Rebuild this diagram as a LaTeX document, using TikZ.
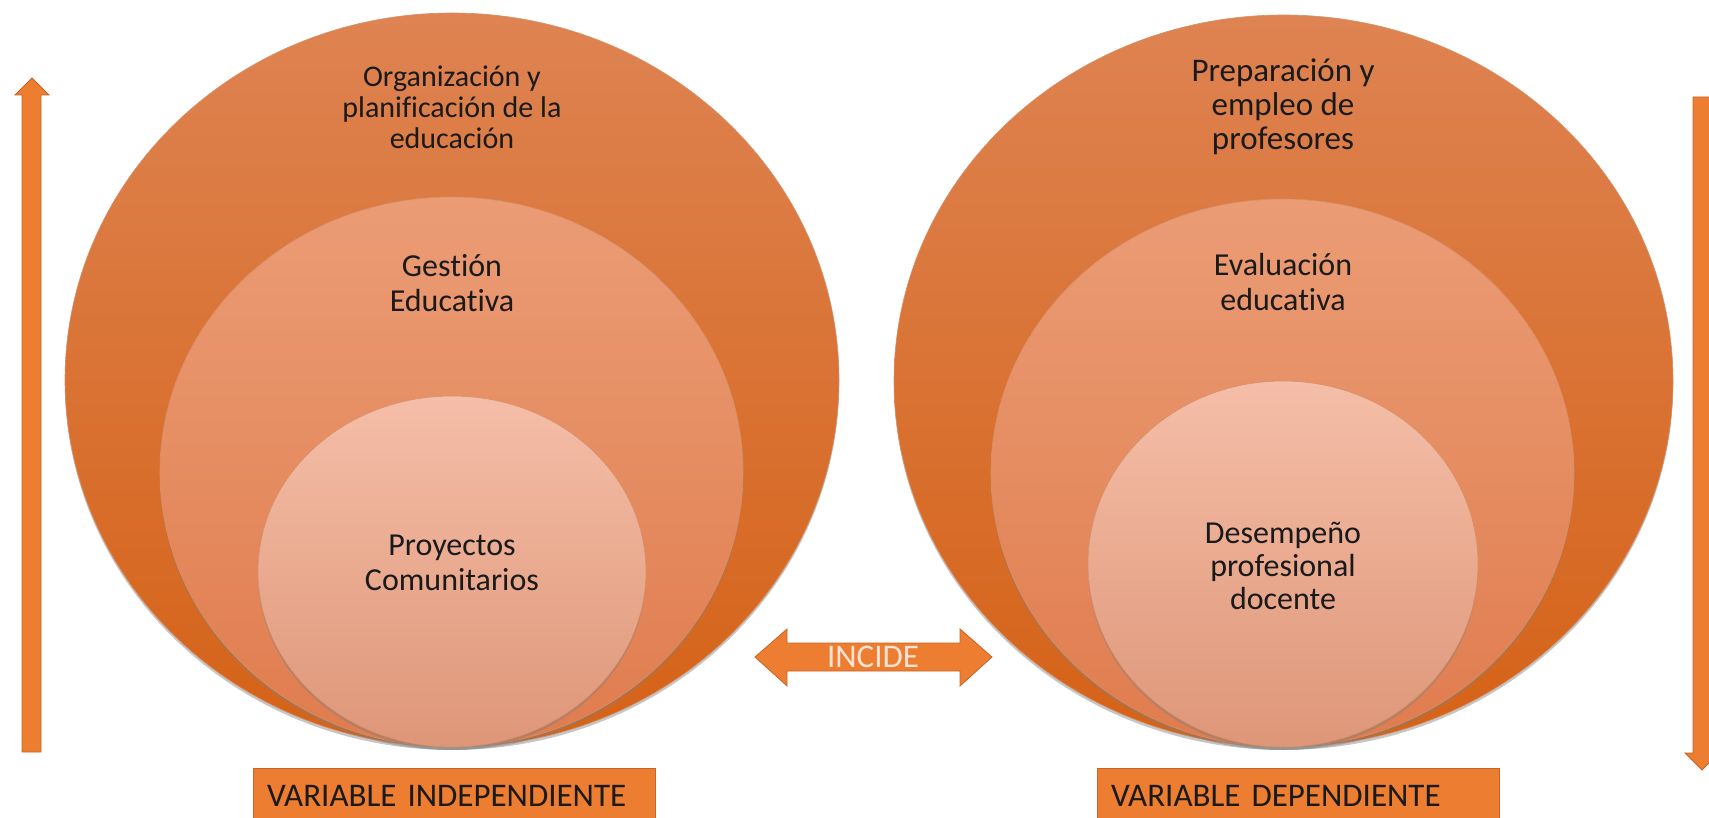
\documentclass[tikz,border=0pt]{standalone}
\usepackage{fontspec}
\setmainfont{Carlito}[Ligatures=NoCommon]
\usetikzlibrary{shapes.geometric,shadows}

\definecolor{outtop}{RGB}{222,131,82}
\definecolor{outbot}{RGB}{213,98,22}
\definecolor{midtop}{RGB}{235,156,117}
\definecolor{midbot}{RGB}{224,124,78}
\definecolor{intop}{RGB}{245,190,168}
\definecolor{inbot}{RGB}{222,150,120}
\definecolor{ringline}{RGB}{196,96,40}
\definecolor{boxfill}{RGB}{237,125,49}
\definecolor{boxline}{RGB}{200,100,40}
\definecolor{txt}{RGB}{26,26,26}
\definecolor{pale}{RGB}{251,228,213}

\tikzset{
  ring/.style={ellipse, inner sep=0pt, draw=ringline!70, line width=0.6pt,
    drop shadow={opacity=0.45, shadow xshift=0pt, shadow yshift=-3pt}},
  outerring/.style={ring, top color=outtop, bottom color=outbot},
  midring/.style={ring, top color=midtop, bottom color=midbot},
  innerring/.style={ring, top color=intop, bottom color=inbot},
  ringtext/.style={align=center, text=txt, inner sep=0pt},
  varbox/.style={rectangle, fill=boxfill, draw=boxline, line width=1pt,
    minimum width=402pt, minimum height=56pt, text width=374pt, align=left,
    inner xsep=14pt, text=txt, font=\fontsize{33}{36}\selectfont},
  bigarrow/.style={fill=boxfill, draw=boxline, line width=0.8pt}
}

\begin{document}
\begin{tikzpicture}[x=1pt,y=-1pt]
\clip (0,0) rectangle (1709,818);

% left set of circles
\node [outerring, minimum width=774pt, minimum height=734pt] (outerL) at (452,380) {};
\node [midring, minimum width=583pt, minimum height=550pt] (midL) at (451.5,472) {};
\node [innerring, minimum width=388pt, minimum height=351pt] (innerL) at (452,571.5) {};

\node [ringtext, font=\fontsize{30}{31}\selectfont] (txtOL) at (452,107)
  {Organización y\\planificación de la\\educación};
\node [ringtext, font=\fontsize{32}{35}\selectfont] (txtML) at (452,283)
  {Gestión\\Educativa};
\node [ringtext, font=\fontsize{32}{35}\selectfont] (txtIL) at (452,563)
  {Proyectos\\Comunitarios};

% right set of circles
\node [outerring, minimum width=779pt, minimum height=732pt] (outerR) at (1283.5,381) {};
\node [midring, minimum width=583pt, minimum height=548pt] (midR) at (1282.5,473) {};
\node [innerring, minimum width=390pt, minimum height=366pt] (innerR) at (1283,564) {};

\node [ringtext, font=\fontsize{33}{34}\selectfont] (txtOR) at (1283,107)
  {Preparación y\\empleo de\\profesores};
\node [ringtext, font=\fontsize{32}{35}\selectfont] (txtMR) at (1283,282)
  {Evaluación\\educativa};
\node [ringtext, font=\fontsize{32}{33}\selectfont] (txtIR) at (1283,566)
  {Desempeño\\profesional\\docente};

% side arrows
\draw [bigarrow] (22,752) -- (22,95) -- (15,95) -- (32,78) -- (49,95)
  -- (41,95) -- (41,752) -- cycle;
\draw [bigarrow] (1693,97) -- (1693,753) -- (1685,753) -- (1702,770)
  -- (1719,753) -- (1711,753) -- (1711,97) -- cycle;

% incide
\draw [bigarrow] (755,657) -- (787,629) -- (787,643) -- (960,643) -- (960,629)
  -- (992,657) -- (960,686) -- (960,671) -- (787,671) -- (787,686) -- cycle;
\node [text=pale, inner sep=0pt, font=\fontsize{33}{33}\selectfont] (incide) at (873,657) {INCIDE};

% variable labels
\node [varbox] (varInd) at (454,796) {VARIABLE INDEPENDIENTE};
\node [varbox] (varDep) at (1298,796) {VARIABLE DEPENDIENTE};
\end{tikzpicture}
\end{document}
